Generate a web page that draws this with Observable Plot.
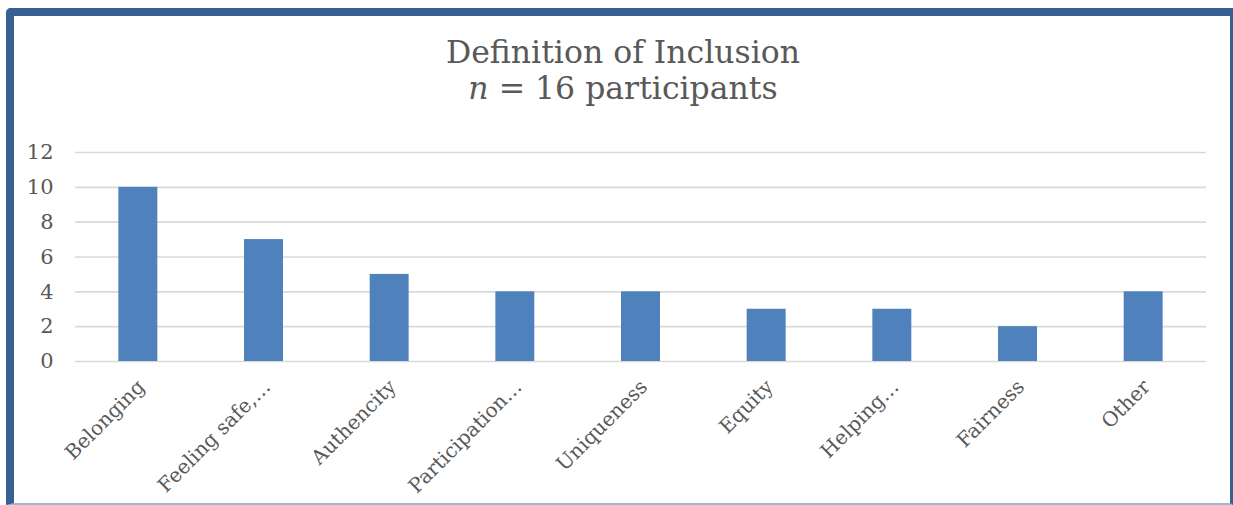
<!DOCTYPE html>
<html>
<head>
<meta charset="utf-8">
<script src="https://cdn.jsdelivr.net/npm/d3@7"></script>
<script src="https://cdn.jsdelivr.net/npm/@observablehq/plot@0.6"></script>
<style>
  html, body { margin: 0; padding: 0; background: #fff; }
  #wrap { position: relative; width: 1233px; height: 505px; overflow: hidden; }
  #title {
    box-sizing: border-box;
    width: 1233px;
    height: 140px;
    padding-top: 34px;
    padding-left: 13px;
    text-align: center;
    font-family: "DejaVu Serif", serif;
    font-size: 31.5px;
    line-height: 36px;
    color: #595959;
  }
  #frame {
    position: absolute;
    box-sizing: border-box;
    left: 6px; top: 8px; width: 1227px; height: 497px;
    border-top: 8px solid #366092;
    border-left: 8px solid #366092;
    border-right: 3px solid #366092;
    border-bottom: 2px solid #9db5d4;
    border-top-left-radius: 5px;
    pointer-events: none;
  }
  svg { display: block; }
</style>
</head>
<body>
<div id="wrap">
  <div id="title">Definition of Inclusion<br><i>n</i> = 16 participants</div>
  <div id="chart"></div>
  <div id="frame"></div>
</div>
<script>
// Responses grouped by how participants defined inclusion
const categories = [
  "Belonging", "Feeling safe,…", "Authencity", "Participation…",
  "Uniqueness", "Equity", "Helping…", "Fairness", "Other"
];
const counts = [10, 7, 5, 4, 4, 3, 3, 2, 4];
const yTicks = [0, 2, 4, 6, 8, 10, 12];

const rows = categories.map((category, i) => ({category, count: counts[i]}));

const chart = Plot.plot({
  width: 1233,
  height: 365,
  marginTop: 12,
  marginBottom: 144,
  marginLeft: 75,
  marginRight: 27,
  style: {fontFamily: "DejaVu Serif, serif", fontSize: "20px", color: "#595959", background: "transparent"},
  x: {domain: categories, paddingInner: 0.69, paddingOuter: 0.345, round: false, label: null},
  y: {domain: [0, 12], label: null},
  marks: [
    Plot.gridY(yTicks, {stroke: "#d9d9d9", strokeOpacity: 1, strokeWidth: 1.6}),
    Plot.barY(rows, {x: "category", y: "count", fill: "#4f81bd"}),
    Plot.axisY(yTicks, {tickSize: 0, tickPadding: 22, fontSize: 21}),
    Plot.axisX({tickSize: 0, tickPadding: 22, dx: 3, tickRotate: -45, fontSize: 20})
  ]
});
document.getElementById("chart").appendChild(chart);
</script>
</body>
</html>
